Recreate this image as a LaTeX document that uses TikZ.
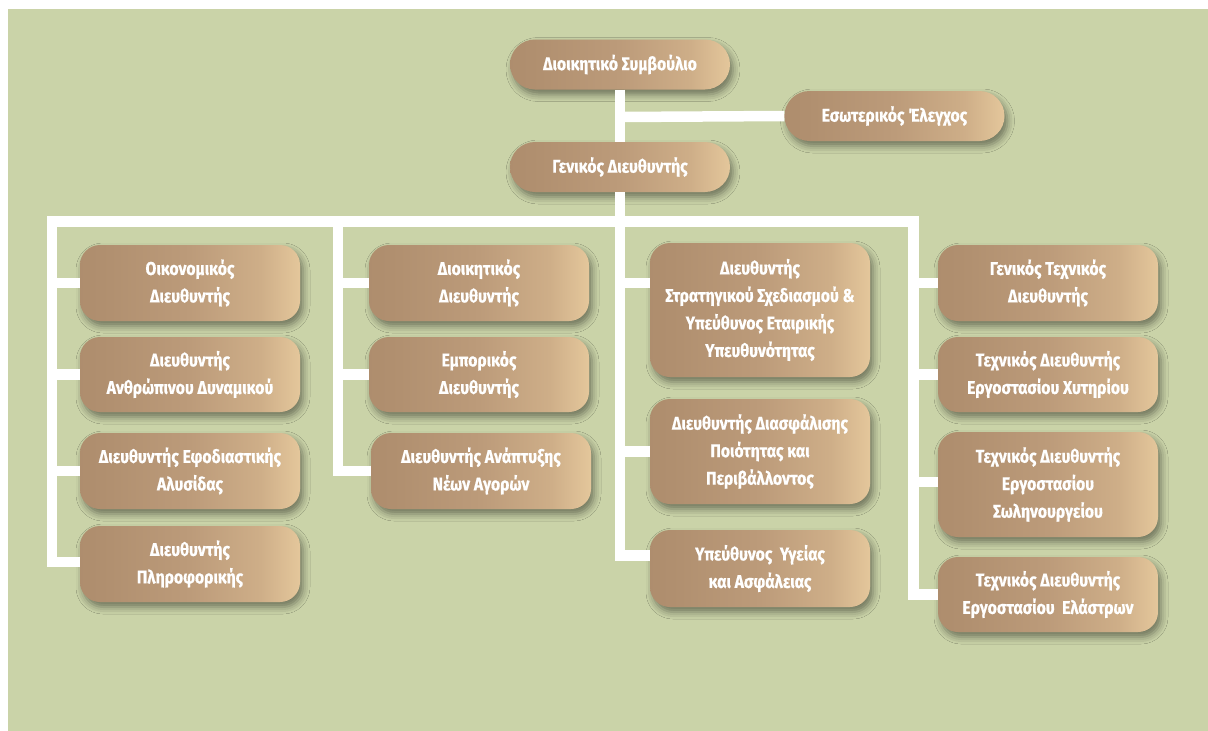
\documentclass[tikz,border=0pt]{standalone}
\usepackage{fontspec}
\newfontfamily\nodefont{Fira Sans Bold}[FakeStretch=0.85, FakeBold=0.6]
\usetikzlibrary{shadows.blur,calc}
\definecolor{bg}{RGB}{202,211,168}
\definecolor{bzA}{RGB}{166,133,102}
\definecolor{bzB}{RGB}{176,143,111}
\definecolor{bzC}{RGB}{188,155,122}
\definecolor{bzD}{RGB}{206,174,136}
\definecolor{bzE}{RGB}{238,210,164}
\definecolor{bzF}{RGB}{236,218,182}
\definecolor{bzG}{RGB}{204,168,126}
\pgfdeclarehorizontalshading{bronze}{100bp}{color(0bp)=(bzA); color(30bp)=(bzB); color(50bp)=(bzC); color(66bp)=(bzD); color(79bp)=(bzE); color(88bp)=(bzF); color(100bp)=(bzG)}
\tikzset{
  box/.style={shading=bronze, rounded corners=20pt, minimum width=220pt, minimum height=76pt,
    text=white, font=\nodefont\fontsize{18.5}{27.5}\selectfont, align=center, inner sep=0pt,
    blur shadow={shadow xshift=3pt, shadow yshift=-5pt, shadow blur radius=7pt, shadow opacity=45}},
  pill/.style={box, rounded corners=25pt, minimum height=50pt},
  conn/.style={draw=white, line width=10.5pt, line cap=butt, line join=miter},
  bus/.style={conn, line cap=rect}
}
\begin{document}
\begin{tikzpicture}[x=1pt,y=-1pt]
\useasboundingbox (0,0) rectangle (1208,731);
\fill[white] (0,0) rectangle (1208,731);
\fill[bg] (8,9) rectangle (1208,731);

% coordinates on the bus
\coordinate (b1) at (52,221.5);
\coordinate (b2) at (338,221.5);
\coordinate (b3) at (620,221.5);
\coordinate (b4) at (913.5,221.5);
\coordinate (tj) at (620,117);

\node[pill] (top) at (620,64.5) {Διοικητικό Συμβούλιο};
\node[pill] (ie)  at (894.5,116) {Εσωτερικός Έλεγχος};
\node[pill] (gd)  at (620,167) {Γενικός Διευθυντής};

\node[box] (c1a) at (190,283) {Οικονομικός\\Διευθυντής};
\node[box, minimum height=75pt] (c1b) at (190,374.5) {Διευθυντής\\Ανθρώπινου Δυναμικού};
\node[box] (c1c) at (190,471) {Διευθυντής Εφοδιαστικής\\Αλυσίδας};
\node[box] (c1d) at (190,564) {Διευθυντής\\Πληροφορικής};

\node[box] (c2a) at (479,283) {Διοικητικός\\Διευθυντής};
\node[box, minimum height=75pt] (c2b) at (479,374.5) {Εμπορικός\\Διευθυντής};
\node[box] (c2c) at (481,471) {Διευθυντής Ανάπτυξης\\Νέων Αγορών};

\node[box, minimum height=134pt] (c3a) at (760,310) {Διευθυντής\\Στρατηγικού Σχεδιασμού \&\\Υπεύθυνος Εταιρικής\\Υπευθυνότητας};
\node[box, minimum height=105pt] (c3b) at (760,451.5) {Διευθυντής Διασφάλισης\\Ποιότητας και\\Περιβάλλοντος};
\node[box, minimum height=77pt] (c3c) at (760,568.5) {Υπεύθυνος\ \ Υγείας\\και Ασφάλειας};

\node[box] (c4a) at (1048,283) {Γενικός Τεχνικός\\Διευθυντής};
\node[box, minimum height=75pt] (c4b) at (1048,374.5) {Τεχνικός Διευθυντής\\Εργοστασίου Χυτηρίου};
\node[box, minimum height=105pt] (c4c) at (1048,484.5) {Τεχνικός Διευθυντής\\Εργοστασίου\\Σωληνουργείου};
\node[box, minimum height=75pt] (c4d) at (1048,594.5) {Τεχνικός Διευθυντής\\Εργοστασίου\ \ Ελάστρων};

\draw[conn] (top.south) -- (gd.north);
\draw[conn] (tj) -- (ie.west);
\draw[conn] (gd.south) -- (b3);
\draw[bus] (b1) -- (b4);
% column 1
\draw[conn] (b1) |- (c1a.west);
\draw[conn] (b1) |- (c1b.west);
\draw[conn] (b1) |- (c1c.west);
\draw[conn] (b1) |- ($(c1d.west)+(0,-2)$);
% column 2
\draw[conn] (b2) |- (c2a.west);
\draw[conn] (b2) |- (c2b.west);
\draw[conn] (b2) |- (c2c.west);
% column 3
\draw[conn] (b3) |- ($(c3a.west)+(0,-27)$);
\draw[conn] (b3) |- (c3b.west);
\draw[conn] (b3) |- ($(c3c.west)+(0,-13)$);
% column 4
\draw[conn] (b4) |- (c4a.west);
\draw[conn] (b4) |- (c4b.west);
\draw[conn] (b4) |- ($(c4c.west)+(0,-2.5)$);
\draw[conn] (b4) |- (c4d.west);
\end{tikzpicture}
\end{document}
